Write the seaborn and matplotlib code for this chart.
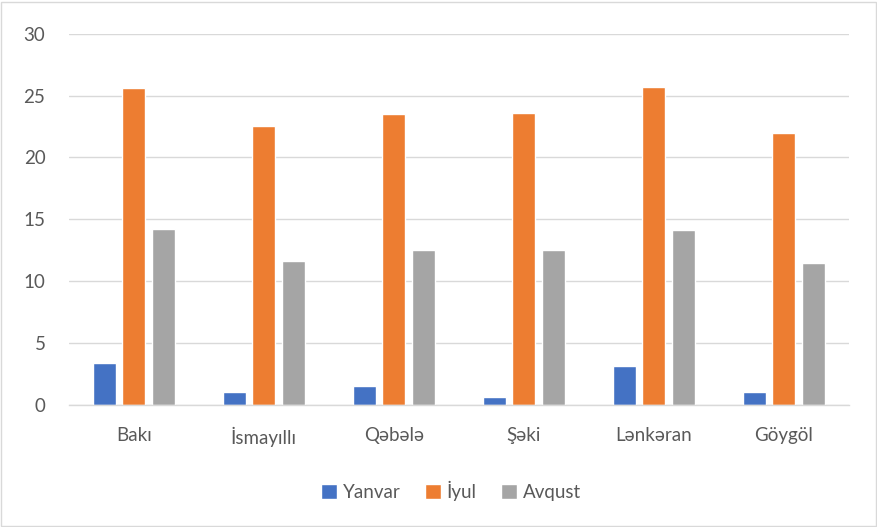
import pandas as pd
import seaborn as sns
import matplotlib.pyplot as plt

# Values
cities = ['Bakı', 'İsmayıllı', 'Qəbələ', 'Şəki', 'Lənkəran', 'Göygöl']
yanvar = [3.4, 1.0, 1.5, 0.6, 3.1, 1.0]
iyul = [25.6, 22.5, 23.5, 23.6, 25.7, 22.0]
avqust = [14.2, 11.6, 12.5, 12.5, 14.1, 11.5]
months = ['Yanvar', 'İyul', 'Avqust']
colors = ['#4472C4', '#ED7D31', '#A5A5A5']

df = pd.DataFrame({'city': cities, 'Yanvar': yanvar, 'İyul': iyul, 'Avqust': avqust})
long_df = df.melt(id_vars='city', value_vars=months, var_name='month', value_name='value')

sns.set_style('white')
plt.rcParams['font.family'] = ['Lato', 'DejaVu Sans']

fig = plt.figure(figsize=(8.78, 5.27), dpi=100)
ax = fig.add_axes([0.0786, 0.232, 0.888, 0.704])

sns.barplot(data=long_df, x='city', y='value', hue='month', hue_order=months,
            palette=colors, width=0.677, gap=0.215, ax=ax, saturation=1, legend=True)

ax.set_ylim(0, 30)
ax.set_yticks(range(0, 31, 5))
ax.set_xlim(-0.5, 5.5)
ax.yaxis.grid(True, color='#d9d9d9', linewidth=1)
ax.set_axisbelow(True)
for s in ['top', 'right', 'left']:
    ax.spines[s].set_visible(False)
ax.spines['bottom'].set_color('#d9d9d9')
ax.spines['bottom'].set_linewidth(1)
ax.tick_params(axis='both', length=0, colors='#595959', labelsize=13.5)
ax.tick_params(axis='x', pad=16)
ax.tick_params(axis='y', pad=17)
ax.set_xlabel('')
ax.set_ylabel('')

ax.legend(loc='center', bbox_to_anchor=(0.49, -0.233), ncol=3, frameon=False,
          fontsize=13.5, labelcolor='#595959', handlelength=0.85, handleheight=0.85,
          handletextpad=0.3, columnspacing=1.3)

fig.patches.append(plt.Rectangle((0.001, 0.002), 0.997, 0.995, transform=fig.transFigure,
                                 fill=False, edgecolor='#d9d9d9', linewidth=1))

fig.savefig('out.png', dpi=100)
